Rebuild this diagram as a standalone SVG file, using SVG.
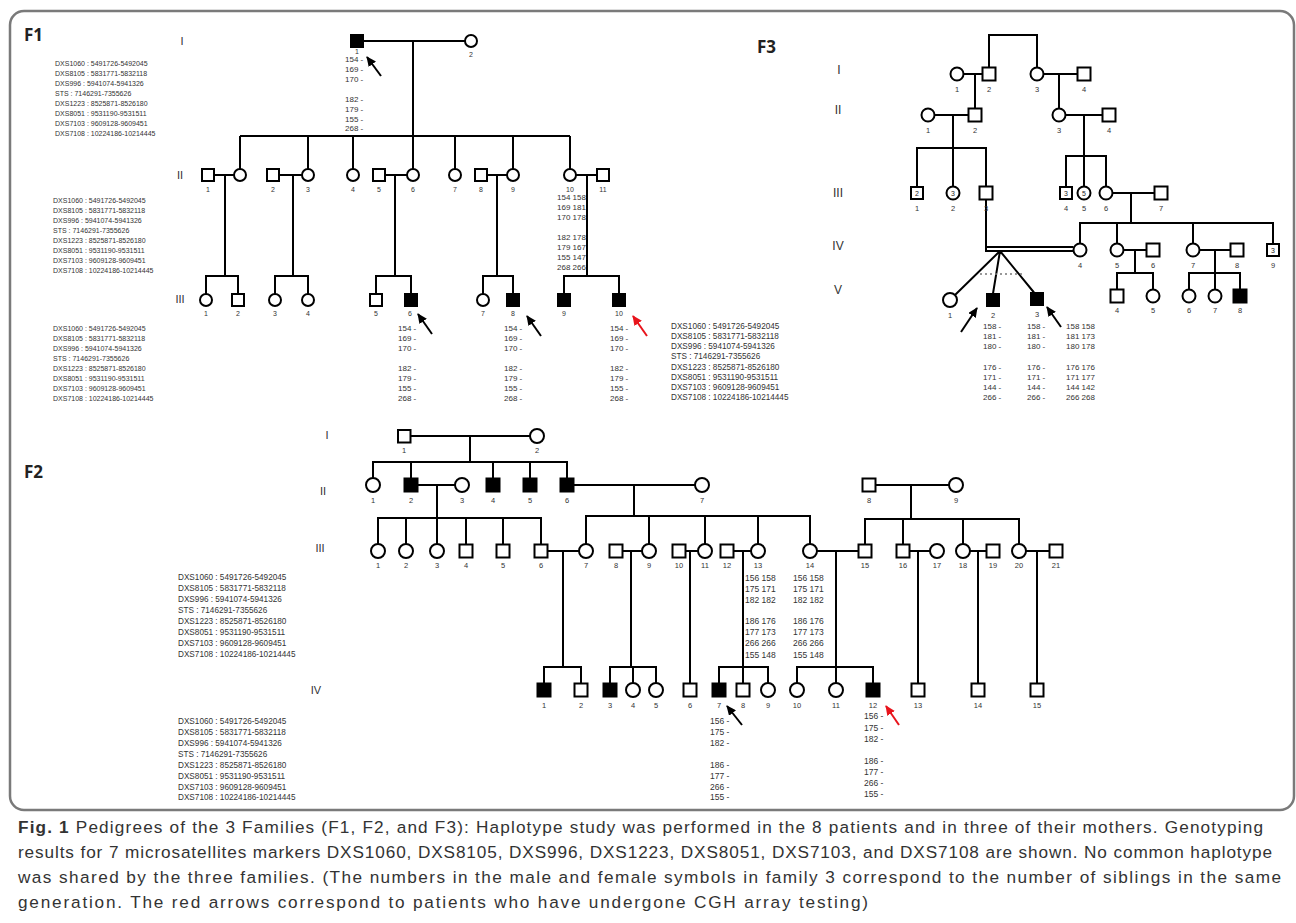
<svg xmlns="http://www.w3.org/2000/svg" width="1296" height="923" viewBox="0 0 1296 923">
<defs>
<style>
.l{stroke:#000;stroke-width:2;fill:none}
.d{stroke:#777;stroke-width:1.5;fill:none;stroke-dasharray:2 3}
.o{fill:#fff;stroke:#000;stroke-width:2}
.f{fill:#000;stroke:#000;stroke-width:2}
text{font-family:"Liberation Sans",Arial,sans-serif;fill:#333}
.n{font-size:7px;text-anchor:middle}
.n8{font-size:7.5px;text-anchor:middle}
.in{font-size:7px;text-anchor:middle;fill:#222}
.a{font-size:8px}
.a9{font-size:8.5px}
.m7{font-size:7px}
.m8{font-size:8.2px}
.g{font-size:11px;text-anchor:middle}
.g3{font-size:12px;text-anchor:middle}
.F{font-family:"Open Sans","Noto Sans",sans-serif;font-weight:bold;font-size:17px;fill:#222}
.cap{font-family:"Open Sans","Noto Sans",sans-serif;font-size:17.2px;fill:#222}
.ar{stroke:#000;stroke-width:2;fill:none}
.arr{stroke:#e8141c;stroke-width:2;fill:none}
</style>
<marker id="hb" markerUnits="userSpaceOnUse" markerWidth="10" markerHeight="9" refX="9" refY="4.5" orient="auto"><path d="M0,0 L10,4.5 L0,9 z" fill="#000"/></marker>
<marker id="hr" markerUnits="userSpaceOnUse" markerWidth="10" markerHeight="9" refX="9" refY="4.5" orient="auto"><path d="M0,0 L10,4.5 L0,9 z" fill="#e8141c"/></marker>
</defs>
<rect x="0" y="0" width="1296" height="923" fill="#fff"/>
<rect x="10" y="11" width="1284" height="799" rx="14" fill="none" stroke="#7a7a7a" stroke-width="2.5"/>

<!-- ================= F1 ================= -->
<text class="F" x="24" y="41">F1</text>
<text class="g" x="182" y="45">I</text>
<text class="g" x="180" y="179">II</text>
<text class="g" x="180" y="303">III</text>
<g id="f1-list1" class="m7">
<text x="55" y="66">DXS1060 : 5491726-5492045</text>
<text x="55" y="76">DXS8105 : 5831771-5832118</text>
<text x="55" y="86">DXS996 : 5941074-5941326</text>
<text x="55" y="96">STS : 7146291-7355626</text>
<text x="55" y="106">DXS1223 : 8525871-8526180</text>
<text x="55" y="116">DXS8051 : 9531190-9531511</text>
<text x="55" y="126">DXS7103 : 9609128-9609451</text>
<text x="55" y="136">DXS7108 : 10224186-10214445</text>
</g>
<g id="f1-list2" class="m7">
<text x="53" y="203">DXS1060 : 5491726-5492045</text>
<text x="53" y="213">DXS8105 : 5831771-5832118</text>
<text x="53" y="223">DXS996 : 5941074-5941326</text>
<text x="53" y="233">STS : 7146291-7355626</text>
<text x="53" y="243">DXS1223 : 8525871-8526180</text>
<text x="53" y="253">DXS8051 : 9531190-9531511</text>
<text x="53" y="263">DXS7103 : 9609128-9609451</text>
<text x="53" y="273">DXS7108 : 10224186-10214445</text>
</g>
<g id="f1-list3" class="m7">
<text x="53" y="331">DXS1060 : 5491726-5492045</text>
<text x="53" y="341">DXS8105 : 5831771-5832118</text>
<text x="53" y="351">DXS996 : 5941074-5941326</text>
<text x="53" y="361">STS : 7146291-7355626</text>
<text x="53" y="371">DXS1223 : 8525871-8526180</text>
<text x="53" y="381">DXS8051 : 9531190-9531511</text>
<text x="53" y="391">DXS7103 : 9609128-9609451</text>
<text x="53" y="401">DXS7108 : 10224186-10214445</text>
</g>

<g id="f1-connectors">
<path class="l" d="M363,41 H465 M413,41 V136 M240,136 H570 M240,136 V169 M308,136 V169 M353,136 V169 M413,136 V169 M455,136 V169 M513,136 V169 M570,136 V169"/>
<path class="l" d="M214,175 H234 M279,175 H302 M385,175 H407 M487,175 H507 M576,175 H597"/>
<path class="l" d="M225,175 V276 M293,175 V276 M395,175 V276 M497,175 V276 M587,175 V276"/>
<path class="l" d="M206,294 V276 H238 V294 M275,294 V276 H308 V294 M376,294 V276 H411 V294 M483,294 V276 H513 V294 M564,294 V276 H619 V294"/>
<path class="ar" marker-end="url(#hb)" d="M381,76 L367,57"/>
<path class="ar" marker-end="url(#hb)" d="M432,334 L418,314"/>
<path class="ar" marker-end="url(#hb)" d="M541,336 L527,316"/>
<path class="arr" marker-end="url(#hr)" d="M647,336 L633,316"/>
</g>

<g id="f1-I-1"><rect class="f" x="351" y="35" width="12" height="12"/><text class="n" x="357" y="54">1</text>
<g class="a"><text x="345" y="62">154 -</text><text x="345" y="72">169 -</text><text x="345" y="82">170 -</text><text x="345" y="102">182 -</text><text x="345" y="112">179 -</text><text x="345" y="122">155 -</text><text x="345" y="131">268 -</text></g></g>
<g id="f1-I-2"><circle class="o" cx="471" cy="41" r="6"/><text class="n" x="471" y="57">2</text></g>

<g id="f1-II-1"><rect class="o" x="202" y="169" width="12" height="12"/><text class="n" x="208" y="192">1</text></g>
<g id="f1-II-1w"><circle class="o" cx="240" cy="175" r="6"/></g>
<g id="f1-II-2"><rect class="o" x="267" y="169" width="12" height="12"/><text class="n" x="273" y="192">2</text></g>
<g id="f1-II-3"><circle class="o" cx="308" cy="175" r="6"/><text class="n" x="308" y="192">3</text></g>
<g id="f1-II-4"><circle class="o" cx="353" cy="175" r="6"/><text class="n" x="353" y="192">4</text></g>
<g id="f1-II-5"><rect class="o" x="373" y="169" width="12" height="12"/><text class="n" x="379" y="192">5</text></g>
<g id="f1-II-6"><circle class="o" cx="413" cy="175" r="6"/><text class="n" x="413" y="192">6</text></g>
<g id="f1-II-7"><circle class="o" cx="455" cy="175" r="6"/><text class="n" x="455" y="192">7</text></g>
<g id="f1-II-8"><rect class="o" x="475" y="169" width="12" height="12"/><text class="n" x="481" y="192">8</text></g>
<g id="f1-II-9"><circle class="o" cx="513" cy="175" r="6"/><text class="n" x="513" y="192">9</text></g>
<g id="f1-II-10"><circle class="o" cx="570" cy="175" r="6"/><text class="n" x="570" y="192">10</text>
<g class="a"><text x="557" y="200">154 158</text><text x="557" y="210">169 181</text><text x="557" y="220">170 178</text><text x="557" y="240">182 178</text><text x="557" y="250">179 167</text><text x="557" y="260">155 147</text><text x="557" y="270">268 266</text></g></g>
<g id="f1-II-11"><rect class="o" x="597" y="169" width="12" height="12"/><text class="n" x="603" y="192">11</text></g>

<g id="f1-III-1"><circle class="o" cx="206" cy="300" r="6"/><text class="n" x="206" y="316">1</text></g>
<g id="f1-III-2"><rect class="o" x="232" y="294" width="12" height="12"/><text class="n" x="238" y="316">2</text></g>
<g id="f1-III-3"><circle class="o" cx="275" cy="300" r="6"/><text class="n" x="275" y="316">3</text></g>
<g id="f1-III-4"><circle class="o" cx="308" cy="300" r="6"/><text class="n" x="308" y="316">4</text></g>
<g id="f1-III-5"><rect class="o" x="370" y="294" width="12" height="12"/><text class="n" x="376" y="316">5</text></g>
<g id="f1-III-6"><rect class="f" x="405" y="294" width="12" height="12"/><text class="n" x="410" y="316">6</text>
<g class="a"><text x="398" y="331">154 -</text><text x="398" y="341">169 -</text><text x="398" y="351">170 -</text><text x="398" y="371">182 -</text><text x="398" y="381">179 -</text><text x="398" y="391">155 -</text><text x="398" y="401">268 -</text></g></g>
<g id="f1-III-7"><circle class="o" cx="483" cy="300" r="6"/><text class="n" x="483" y="316">7</text></g>
<g id="f1-III-8"><rect class="f" x="507" y="294" width="12" height="12"/><text class="n" x="513" y="316">8</text>
<g class="a"><text x="504" y="331">154 -</text><text x="504" y="341">169 -</text><text x="504" y="351">170 -</text><text x="504" y="371">182 -</text><text x="504" y="381">179 -</text><text x="504" y="391">155 -</text><text x="504" y="401">268 -</text></g></g>
<g id="f1-III-9"><rect class="f" x="558" y="294" width="12" height="12"/><text class="n" x="564" y="316">9</text></g>
<g id="f1-III-10"><rect class="f" x="613" y="294" width="12" height="12"/><text class="n" x="619" y="316">10</text>
<g class="a"><text x="610" y="331">154 -</text><text x="610" y="341">169 -</text><text x="610" y="351">170 -</text><text x="610" y="371">182 -</text><text x="610" y="381">179 -</text><text x="610" y="391">155 -</text><text x="610" y="401">268 -</text></g></g>

<!-- ================= F3 ================= -->
<text class="F" x="757" y="53">F3</text>
<text class="g3" x="839" y="74">I</text>
<text class="g3" x="838" y="114">II</text>
<text class="g3" x="838" y="197">III</text>
<text class="g3" x="838" y="250">IV</text>
<text class="g3" x="838" y="294">V</text>
<g id="f3-list" class="m8">
<text x="671" y="329">DXS1060 : 5491726-5492045</text>
<text x="671" y="339">DXS8105 : 5831771-5832118</text>
<text x="671" y="349">DXS996 : 5941074-5941326</text>
<text x="671" y="359">STS : 7146291-7355626</text>
<text x="671" y="370">DXS1223 : 8525871-8526180</text>
<text x="671" y="380">DXS8051 : 9531190-9531511</text>
<text x="671" y="390">DXS7103 : 9609128-9609451</text>
<text x="671" y="400">DXS7108 : 10224186-10214445</text>
</g>

<g id="f3-connectors">
<path class="l" d="M963.5,74 H982.5 M975,74 V108.5 M989,67.5 V35 H1037 V67.5 M1043.5,74 H1077.5 M1059,74 V108.5"/>
<path class="l" d="M934.5,115 H968.5 M953,115 V186.5 M917,186.5 V148 H986 V186.5"/>
<path class="l" d="M1065.5,115 H1102.5 M1084,115 V186.5 M1066,186.5 V156 H1106 V186.5"/>
<path class="l" d="M1112.5,193 H1154.5 M1131,193 V223 M1080,243.5 V223 H1273 V243.5 M1117,223 V243.5 M1193,223 V243.5"/>
<path class="l" d="M1123.5,250 H1146.5 M1135,250 V273 M1117,289.5 V273 H1153 V289.5"/>
<path class="l" d="M1199.5,250 H1230.5 M1215,250 V289.5 M1189,289.5 V273 H1240 V289.5"/>
<path class="l" d="M986,199.5 V251 H1073.5 M986,247 H1073.5"/>
<path class="l" d="M1000,251 L955,295 M1000,251 L993,293.5 M1000,251 L1034,292.5"/>
<path class="d" d="M980,274 H1022"/>
<path class="ar" marker-end="url(#hb)" d="M961,332 L977,308"/>
<path class="ar" marker-end="url(#hb)" d="M1061,327 L1047,307"/>
</g>

<g id="f3-I-1"><circle class="o" cx="957" cy="74" r="6.5"/><text class="n8" x="957" y="92">1</text></g>
<g id="f3-I-2"><rect class="o" x="982.5" y="67.5" width="13" height="13"/><text class="n8" x="989" y="92">2</text></g>
<g id="f3-I-3"><circle class="o" cx="1037" cy="74" r="6.5"/><text class="n8" x="1037" y="92">3</text></g>
<g id="f3-I-4"><rect class="o" x="1077.5" y="67.5" width="13" height="13"/><text class="n8" x="1084" y="92">4</text></g>
<g id="f3-II-1"><circle class="o" cx="928" cy="115" r="6.5"/><text class="n8" x="928" y="133">1</text></g>
<g id="f3-II-2"><rect class="o" x="968.5" y="108.5" width="13" height="13"/><text class="n8" x="975" y="133">2</text></g>
<g id="f3-II-3"><circle class="o" cx="1059" cy="115" r="6.5"/><text class="n8" x="1059" y="133">3</text></g>
<g id="f3-II-4"><rect class="o" x="1102.5" y="108.5" width="13" height="13"/><text class="n8" x="1109" y="133">4</text></g>
<g id="f3-III-1"><rect class="o" x="911" y="187" width="12" height="12"/><text class="in" x="917" y="195.5">2</text><text class="n8" x="917" y="211">1</text></g>
<g id="f3-III-2"><circle class="o" cx="953" cy="193" r="6.5"/><text class="in" x="953" y="195.5">3</text><text class="n8" x="953" y="211">2</text></g>
<g id="f3-III-3"><rect class="o" x="979.5" y="186.5" width="13" height="13"/><text class="n8" x="986" y="211">3</text></g>
<g id="f3-III-4"><rect class="o" x="1060" y="187" width="12" height="12"/><text class="in" x="1066" y="195.5">3</text><text class="n8" x="1066" y="211">4</text></g>
<g id="f3-III-5"><circle class="o" cx="1084" cy="193" r="6.5"/><text class="in" x="1084" y="195.5">5</text><text class="n8" x="1084" y="211">5</text></g>
<g id="f3-III-6"><circle class="o" cx="1106" cy="193" r="6.5"/><text class="n8" x="1106" y="211">6</text></g>
<g id="f3-III-7"><rect class="o" x="1154.5" y="186.5" width="13" height="13"/><text class="n8" x="1161" y="211">7</text></g>
<g id="f3-IV-4"><circle class="o" cx="1080" cy="250" r="6.5"/><text class="n8" x="1080" y="268">4</text></g>
<g id="f3-IV-5"><circle class="o" cx="1117" cy="250" r="6.5"/><text class="n8" x="1117" y="268">5</text></g>
<g id="f3-IV-6"><rect class="o" x="1146.5" y="243.5" width="13" height="13"/><text class="n8" x="1153" y="268">6</text></g>
<g id="f3-IV-7"><circle class="o" cx="1193" cy="250" r="6.5"/><text class="n8" x="1193" y="268">7</text></g>
<g id="f3-IV-8"><rect class="o" x="1230.5" y="243.5" width="13" height="13"/><text class="n8" x="1237" y="268">8</text></g>
<g id="f3-IV-9"><rect class="o" x="1267" y="244" width="12" height="12"/><text class="in" x="1273" y="252.5">3</text><text class="n8" x="1273" y="268">9</text></g>
<g id="f3-V-1"><circle class="o" cx="950" cy="300" r="7"/><text class="n8" x="950" y="318">1</text></g>
<g id="f3-V-2"><rect class="f" x="987" y="294" width="12" height="12"/><text class="n8" x="993" y="318">2</text>
<g class="a"><text x="983" y="329">158 -</text><text x="983" y="339">181 -</text><text x="983" y="349">180 -</text><text x="983" y="370">176 -</text><text x="983" y="380">171 -</text><text x="983" y="390">144 -</text><text x="983" y="400">266 -</text></g></g>
<g id="f3-V-3"><rect class="f" x="1031" y="293" width="12" height="12"/><text class="n8" x="1037" y="317">3</text>
<g class="a"><text x="1027" y="329">158 -</text><text x="1027" y="339">181 -</text><text x="1027" y="349">180 -</text><text x="1027" y="370">176 -</text><text x="1027" y="380">171 -</text><text x="1027" y="390">144 -</text><text x="1027" y="400">266 -</text></g></g>
<g id="f3-mother-alleles" class="a"><text x="1066" y="329">158 158</text><text x="1066" y="339">181 173</text><text x="1066" y="349">180 178</text><text x="1066" y="370">176 176</text><text x="1066" y="380">171 177</text><text x="1066" y="390">144 142</text><text x="1066" y="400">266 268</text></g>
<g id="f3-V-4"><rect class="o" x="1110.5" y="289.5" width="13" height="13"/><text class="n8" x="1117" y="313">4</text></g>
<g id="f3-V-5"><circle class="o" cx="1153" cy="296" r="6.5"/><text class="n8" x="1153" y="313">5</text></g>
<g id="f3-V-6"><circle class="o" cx="1189" cy="296" r="6.5"/><text class="n8" x="1189" y="313">6</text></g>
<g id="f3-V-7"><circle class="o" cx="1215" cy="296" r="6.5"/><text class="n8" x="1215" y="313">7</text></g>
<g id="f3-V-8"><rect class="f" x="1233.5" y="289.5" width="13" height="13"/><text class="n8" x="1240" y="313">8</text></g>

<!-- ================= F2 ================= -->
<text class="F" x="24" y="478">F2</text>
<text class="g" x="327" y="439">I</text>
<text class="g" x="323" y="495">II</text>
<text class="g" x="320" y="552">III</text>
<text class="g" x="316" y="694">IV</text>
<g id="f2-list1" class="m8">
<text x="178" y="580">DXS1060 : 5491726-5492045</text>
<text x="178" y="591">DXS8105 : 5831771-5832118</text>
<text x="178" y="602">DXS996 : 5941074-5941326</text>
<text x="178" y="613">STS : 7146291-7355626</text>
<text x="178" y="624">DXS1223 : 8525871-8526180</text>
<text x="178" y="635">DXS8051 : 9531190-9531511</text>
<text x="178" y="646">DXS7103 : 9609128-9609451</text>
<text x="178" y="657">DXS7108 : 10224186-10214445</text>
</g>
<g id="f2-list2" class="m8">
<text x="178" y="724">DXS1060 : 5491726-5492045</text>
<text x="178" y="735">DXS8105 : 5831771-5832118</text>
<text x="178" y="746">DXS996 : 5941074-5941326</text>
<text x="178" y="757">STS : 7146291-7355626</text>
<text x="178" y="768">DXS1223 : 8525871-8526180</text>
<text x="178" y="779">DXS8051 : 9531190-9531511</text>
<text x="178" y="790">DXS7103 : 9609128-9609451</text>
<text x="178" y="800">DXS7108 : 10224186-10214445</text>
</g>

<g id="f2-connectors">
<path class="l" d="M410.5,436 H530 M470,436 V462 M373,478 V462 H567 V478.5 M411,462 V478.5 M493,462 V478.5 M530,462 V478.5"/>
<path class="l" d="M417.5,485 H455 M437,485 V544 M573.5,485 H695 M634,485 V516 M875.5,485 H949 M911,485 V519"/>
<path class="l" d="M378,544 V518 H541 V544.5 M406,518 V544 M466,518 V544.5 M503,518 V544.5"/>
<path class="l" d="M586,544 V516 H810 V544 M649,516 V544 M705,516 V544 M758,516 V544"/>
<path class="l" d="M865,544.5 V519 H1019 V544 M903,519 V544.5 M963,519 V544"/>
<path class="l" d="M547.5,551 H579 M563,551 V667 M622.5,551 H642 M631,551 V667 M685.5,551 H698 M690,551 V683.5 M733.5,551 H751 M743,551 V683.5 M817,551 H858.5 M836,551 V683.5 M909.5,551 H930 M918,551 V683.5 M970,551 H986.5 M978,551 V683.5 M1026,551 H1049.5 M1037,551 V683.5"/>
<path class="l" d="M544,683.5 V667 H581 V683.5 M610,683.5 V667 H656 V683 M633,667 V683 M719,683.5 V667 H768 V683 M797,683 V667 H873 V683.5"/>
<path class="ar" marker-end="url(#hb)" d="M742,725 L727,706"/>
<path class="arr" marker-end="url(#hr)" d="M899,725 L886,706"/>
</g>

<g id="f2-I-1"><rect class="o" x="398" y="430" width="12.5" height="12.5"/><text class="n8" x="404" y="453">1</text></g>
<g id="f2-I-2"><circle class="o" cx="537" cy="436" r="7"/><text class="n8" x="537" y="453">2</text></g>
<g id="f2-II-1"><circle class="o" cx="373" cy="485" r="7"/><text class="n8" x="373" y="503">1</text></g>
<g id="f2-II-2"><rect class="f" x="404.5" y="478.5" width="13" height="13"/><text class="n8" x="411" y="503">2</text></g>
<g id="f2-II-3"><circle class="o" cx="462" cy="485" r="7"/><text class="n8" x="462" y="503">3</text></g>
<g id="f2-II-4"><rect class="f" x="486.5" y="478.5" width="13" height="13"/><text class="n8" x="493" y="503">4</text></g>
<g id="f2-II-5"><rect class="f" x="523.5" y="478.5" width="13" height="13"/><text class="n8" x="530" y="503">5</text></g>
<g id="f2-II-6"><rect class="f" x="560.5" y="478.5" width="13" height="13"/><text class="n8" x="567" y="503">6</text></g>
<g id="f2-II-7"><circle class="o" cx="702" cy="485" r="7"/><text class="n8" x="702" y="503">7</text></g>
<g id="f2-II-8"><rect class="o" x="862.5" y="478.5" width="13" height="13"/><text class="n8" x="869" y="503">8</text></g>
<g id="f2-II-9"><circle class="o" cx="956" cy="485" r="7"/><text class="n8" x="956" y="503">9</text></g>

<g id="f2-III-1"><circle class="o" cx="378" cy="551" r="7"/><text class="n8" x="378" y="568">1</text></g>
<g id="f2-III-2"><circle class="o" cx="406" cy="551" r="7"/><text class="n8" x="406" y="568">2</text></g>
<g id="f2-III-3"><circle class="o" cx="437" cy="551" r="7"/><text class="n8" x="437" y="568">3</text></g>
<g id="f2-III-4"><rect class="o" x="459.5" y="544.5" width="13" height="13"/><text class="n8" x="466" y="568">4</text></g>
<g id="f2-III-5"><rect class="o" x="496.5" y="544.5" width="13" height="13"/><text class="n8" x="503" y="568">5</text></g>
<g id="f2-III-6"><rect class="o" x="534.5" y="544.5" width="13" height="13"/><text class="n8" x="541" y="568">6</text></g>
<g id="f2-III-7"><circle class="o" cx="586" cy="551" r="7"/><text class="n8" x="586" y="568">7</text></g>
<g id="f2-III-8"><rect class="o" x="609.5" y="544.5" width="13" height="13"/><text class="n8" x="616" y="568">8</text></g>
<g id="f2-III-9"><circle class="o" cx="649" cy="551" r="7"/><text class="n8" x="649" y="568">9</text></g>
<g id="f2-III-10"><rect class="o" x="672.5" y="544.5" width="13" height="13"/><text class="n8" x="679" y="568">10</text></g>
<g id="f2-III-11"><circle class="o" cx="705" cy="551" r="7"/><text class="n8" x="705" y="568">11</text></g>
<g id="f2-III-12"><rect class="o" x="720.5" y="544.5" width="13" height="13"/><text class="n8" x="727" y="568">12</text></g>
<g id="f2-III-13"><circle class="o" cx="758" cy="551" r="7"/><text class="n8" x="758" y="568">13</text>
<g class="a9"><text x="745" y="581">156 158</text><text x="745" y="592">175 171</text><text x="745" y="603">182 182</text><text x="745" y="624">186 176</text><text x="745" y="635">177 173</text><text x="745" y="646">266 266</text><text x="745" y="658">155 148</text></g></g>
<g id="f2-III-14"><circle class="o" cx="810" cy="551" r="7"/><text class="n8" x="810" y="568">14</text>
<g class="a9"><text x="793" y="581">156 158</text><text x="793" y="592">175 171</text><text x="793" y="603">182 182</text><text x="793" y="624">186 176</text><text x="793" y="635">177 173</text><text x="793" y="646">266 266</text><text x="793" y="658">155 148</text></g></g>
<g id="f2-III-15"><rect class="o" x="858.5" y="544.5" width="13" height="13"/><text class="n8" x="865" y="568">15</text></g>
<g id="f2-III-16"><rect class="o" x="896.5" y="544.5" width="13" height="13"/><text class="n8" x="903" y="568">16</text></g>
<g id="f2-III-17"><circle class="o" cx="937" cy="551" r="7"/><text class="n8" x="937" y="568">17</text></g>
<g id="f2-III-18"><circle class="o" cx="963" cy="551" r="7"/><text class="n8" x="963" y="568">18</text></g>
<g id="f2-III-19"><rect class="o" x="986.5" y="544.5" width="13" height="13"/><text class="n8" x="993" y="568">19</text></g>
<g id="f2-III-20"><circle class="o" cx="1019" cy="551" r="7"/><text class="n8" x="1019" y="568">20</text></g>
<g id="f2-III-21"><rect class="o" x="1049.5" y="544.5" width="13" height="13"/><text class="n8" x="1056" y="568">21</text></g>

<g id="f2-IV-1"><rect class="f" x="537.5" y="683.5" width="13" height="13"/><text class="n8" x="544" y="708">1</text></g>
<g id="f2-IV-2"><rect class="o" x="574.5" y="683.5" width="13" height="13"/><text class="n8" x="581" y="708">2</text></g>
<g id="f2-IV-3"><rect class="f" x="603.5" y="683.5" width="13" height="13"/><text class="n8" x="610" y="708">3</text></g>
<g id="f2-IV-4"><circle class="o" cx="633" cy="690" r="7"/><text class="n8" x="633" y="708">4</text></g>
<g id="f2-IV-5"><circle class="o" cx="656" cy="690" r="7"/><text class="n8" x="656" y="708">5</text></g>
<g id="f2-IV-6"><rect class="o" x="683.5" y="683.5" width="13" height="13"/><text class="n8" x="690" y="708">6</text></g>
<g id="f2-IV-7"><rect class="f" x="712.5" y="683.5" width="13" height="13"/><text class="n8" x="719" y="708">7</text>
<g class="a9"><text x="710" y="724">156 -</text><text x="710" y="735">175 -</text><text x="710" y="746">182 -</text><text x="710" y="768">186 -</text><text x="710" y="779">177 -</text><text x="710" y="790">266 -</text><text x="710" y="800">155 -</text></g></g>
<g id="f2-IV-8"><rect class="o" x="736.5" y="683.5" width="13" height="13"/><text class="n8" x="743" y="708">8</text></g>
<g id="f2-IV-9"><circle class="o" cx="768" cy="690" r="7"/><text class="n8" x="768" y="708">9</text></g>
<g id="f2-IV-10"><circle class="o" cx="797" cy="690" r="7"/><text class="n8" x="797" y="708">10</text></g>
<g id="f2-IV-11"><circle class="o" cx="836" cy="690" r="7"/><text class="n8" x="836" y="708">11</text></g>
<g id="f2-IV-12"><rect class="f" x="866.5" y="683.5" width="13" height="13"/><text class="n8" x="873" y="708">12</text>
<g class="a9"><text x="864" y="719">156 -</text><text x="864" y="731">175 -</text><text x="864" y="742">182 -</text><text x="864" y="764">186 -</text><text x="864" y="775">177 -</text><text x="864" y="786">266 -</text><text x="864" y="797">155 -</text></g></g>
<g id="f2-IV-13"><rect class="o" x="911.5" y="683.5" width="13" height="13"/><text class="n8" x="918" y="708">13</text></g>
<g id="f2-IV-14"><rect class="o" x="971.5" y="683.5" width="13" height="13"/><text class="n8" x="978" y="708">14</text></g>
<g id="f2-IV-15"><rect class="o" x="1030.5" y="683.5" width="13" height="13"/><text class="n8" x="1037" y="708">15</text></g>

<!-- ================= caption ================= -->
<g id="caption" class="cap">
<text x="18" y="833" textLength="1245" lengthAdjust="spacing"><tspan font-weight="bold">Fig. 1</tspan>  Pedigrees of the 3 Families (F1, F2, and F3): Haplotype study was performed in the 8 patients and in three of their mothers. Genotyping</text>
<text x="18" y="858" textLength="1254" lengthAdjust="spacing">results for 7 microsatellites markers DXS1060, DXS8105, DXS996, DXS1223, DXS8051, DXS7103, and DXS7108 are shown. No common haplotype</text>
<text x="18" y="883" textLength="1263" lengthAdjust="spacing">was shared by the three families. (The numbers in the male and female symbols in family 3 correspond to the number of siblings in the same</text>
<text x="18" y="908" textLength="850" lengthAdjust="spacing">generation. The red arrows correspond to patients who have undergone CGH array testing)</text>
</g>
</svg>
